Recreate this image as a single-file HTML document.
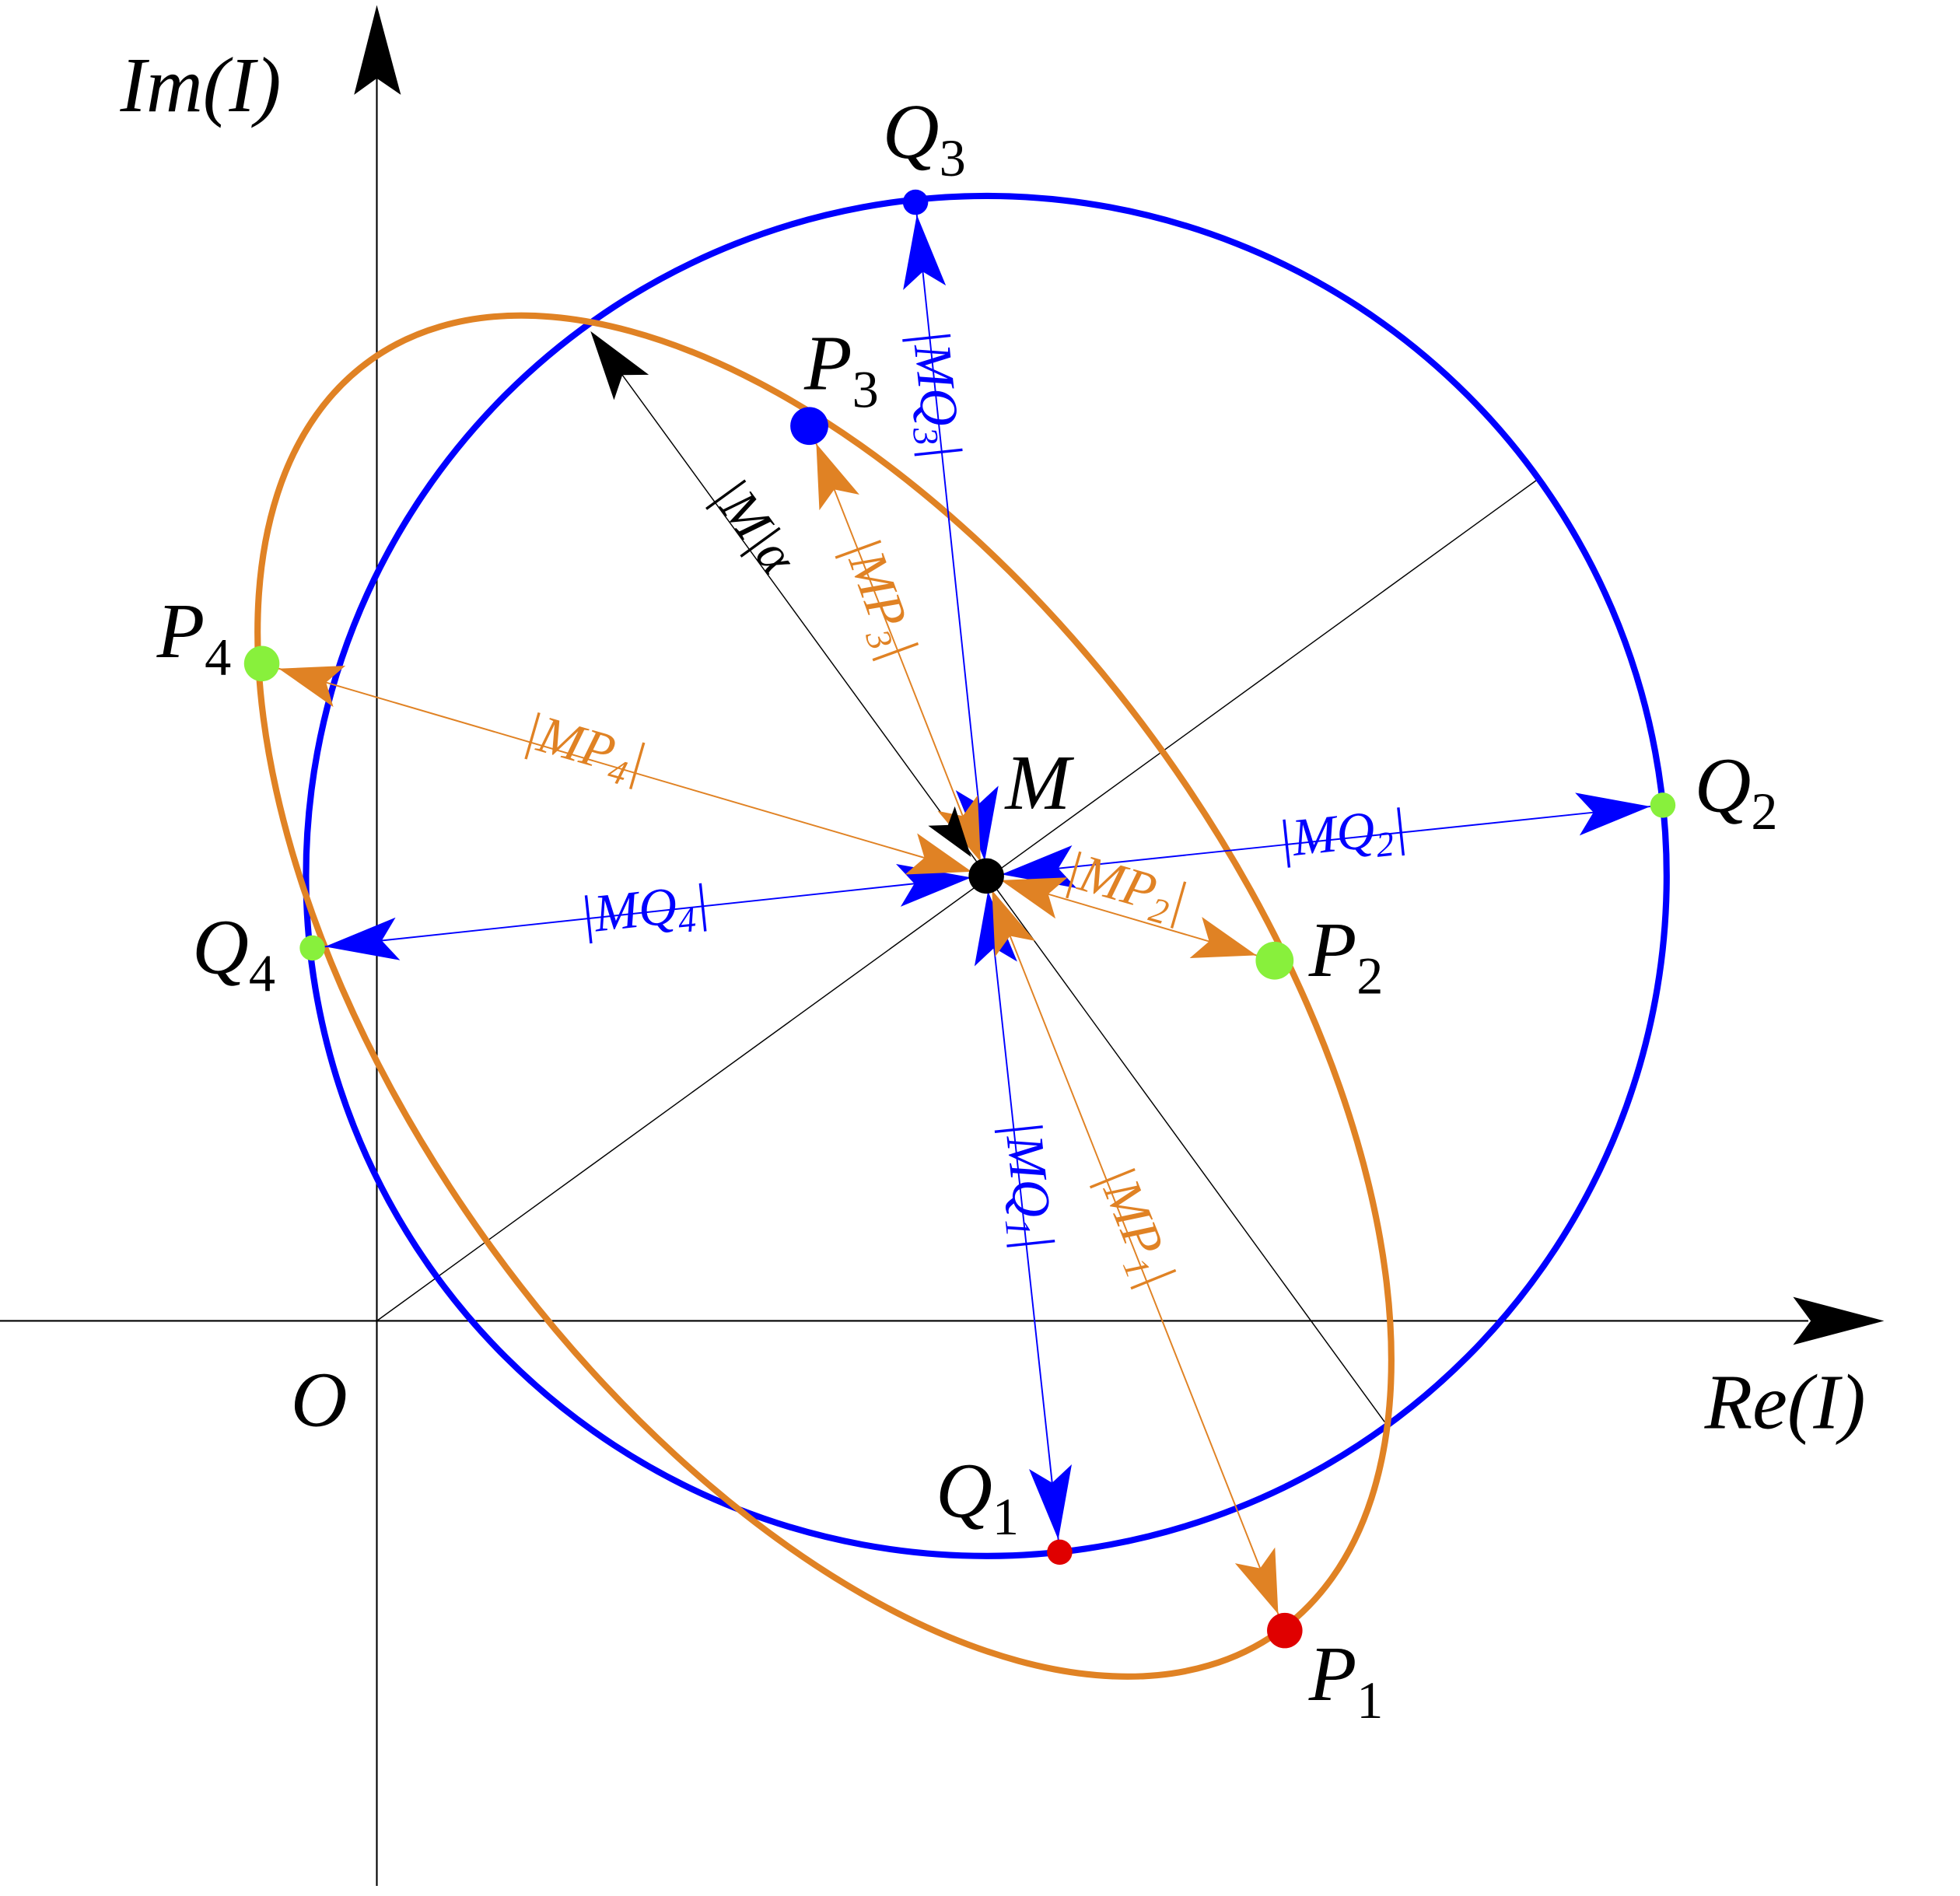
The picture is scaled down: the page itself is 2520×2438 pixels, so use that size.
<!DOCTYPE html>
<html><head><meta charset="utf-8"><style>
html,body{margin:0;padding:0;background:#fff}
svg{display:block}
text{font-family:"Liberation Serif",serif;font-style:italic}
</style></head><body>
<svg id="s" width="2520" height="2438" viewBox="0 0 1550 1500" preserveAspectRatio="none" xmlns="http://www.w3.org/2000/svg">
<rect width="1550" height="1500" fill="#fff"/>
<!-- axes -->
<line x1="0" y1="1045" x2="1430" y2="1045" stroke="#000" stroke-width="1.3"/>
<polygon points="1490,1045 1418,1026 1432,1045 1418,1064" fill="#000"/>
<line x1="298" y1="1492" x2="298" y2="60" stroke="#000" stroke-width="1.3"/>
<polygon points="298,4 280,75 298,62 317,75" fill="#000"/>
<!-- thin black lines -->
<line x1="298" y1="1045" x2="1215" y2="380" stroke="#000" stroke-width="0.9"/>
<line x1="1095" y1="1125" x2="480" y2="280" stroke="#000" stroke-width="0.9"/>
<!-- circle & ellipse -->
<circle cx="780" cy="693" r="538" fill="none" stroke="#0000ff" stroke-width="5"/>
<ellipse cx="652" cy="788" rx="618" ry="330" transform="rotate(54.5 652 788)" fill="none" stroke="#e08224" stroke-width="5"/>
<g id="arr"></g>
<!-- dots -->
<circle cx="724" cy="160" r="10" fill="#0000ff"/>
<circle cx="1315" cy="637" r="10" fill="#88f03c"/>
<circle cx="247" cy="750" r="10" fill="#88f03c"/>
<circle cx="838" cy="1228" r="10" fill="#e00000"/>
<circle cx="1016" cy="1290" r="14" fill="#e00000"/>
<circle cx="1008" cy="760" r="15" fill="#88f03c"/>
<circle cx="640" cy="337" r="15" fill="#0000ff"/>
<circle cx="207" cy="525" r="14" fill="#88f03c"/>
<circle cx="780" cy="693" r="14" fill="#000"/>
<!-- main labels -->
<g font-size="62" fill="#000">
<text x="95" y="88">Im(I)</text>
<text x="1348" y="1130">Re(I)</text>
<text x="230" y="1128">O</text>
<text x="698" y="125">Q<tspan font-style="normal" font-size="42" dy="14">3</tspan></text>
<text x="636" y="308">P<tspan font-style="normal" font-size="42" dy="14">3</tspan></text>
<text x="124" y="520">P<tspan font-style="normal" font-size="42" dy="14">4</tspan></text>
<text x="152" y="770">Q<tspan font-style="normal" font-size="42" dy="14">4</tspan></text>
<text x="795" y="640">M</text>
<text x="1340" y="642">Q<tspan font-style="normal" font-size="42" dy="14">2</tspan></text>
<text x="1035" y="772">P<tspan font-style="normal" font-size="42" dy="14">2</tspan></text>
<text x="740" y="1200">Q<tspan font-style="normal" font-size="42" dy="14">1</tspan></text>
<text x="1035" y="1345">P<tspan font-style="normal" font-size="42" dy="14">1</tspan></text>
</g>
<!-- rotated labels -->
<g font-size="42">
<text fill="#0000ff" transform="translate(722,262) rotate(84)">|MQ<tspan font-size="28" dy="8">3</tspan><tspan dy="-8">|</tspan></text>
<text fill="#000" transform="translate(562,392) rotate(54)">|M|α</text>
<text fill="#e08224" transform="translate(667,432) rotate(70)">|MP<tspan font-size="28" dy="8">3</tspan><tspan dy="-8">|</tspan></text>
<text fill="#e08224" transform="translate(412,590) rotate(16)">|MP<tspan font-size="28" dy="8">4</tspan><tspan dy="-8">|</tspan></text>
<text fill="#0000ff" transform="translate(1012,678) rotate(-6)">|MQ<tspan font-size="28" dy="8">2</tspan><tspan dy="-8">|</tspan></text>
<text fill="#0000ff" transform="translate(460,738) rotate(-6)">|MQ<tspan font-size="28" dy="8">4</tspan><tspan dy="-8">|</tspan></text>
<text fill="#e08224" transform="translate(840,700) rotate(16)">|MP<tspan font-size="28" dy="8">2</tspan><tspan dy="-8">|</tspan></text>
<text fill="#0000ff" transform="translate(795,888) rotate(84)">|MQ<tspan font-size="28" dy="8">1</tspan><tspan dy="-8">|</tspan></text>
<text fill="#e08224" transform="translate(868,930) rotate(68)">|MP<tspan font-size="28" dy="8">1</tspan><tspan dy="-8">|</tspan></text>
</g>
<script>
(function(){
var g=document.getElementById('arr'),NS='http://www.w3.org/2000/svg';
var M=[780,693];
function head(tx,ty,fx,fy,col,L,W){
 var dx=tx-fx,dy=ty-fy,d=Math.hypot(dx,dy);dx/=d;dy/=d;var px=-dy,py=dx;
 var bx=tx-dx*L,by=ty-dy*L,nx=tx-dx*L*0.78,ny=ty-dy*L*0.78;
 var p=document.createElementNS(NS,'polygon');
 p.setAttribute('points',[tx,ty,bx+px*W/2,by+py*W/2,nx,ny,bx-px*W/2,by-py*W/2].join(' '));
 p.setAttribute('fill',col);g.appendChild(p);
}
function arr(x,y,col,w,L,W,off){
 var l=document.createElementNS(NS,'line');
 l.setAttribute('x1',M[0]);l.setAttribute('y1',M[1]);l.setAttribute('x2',x);l.setAttribute('y2',y);
 l.setAttribute('stroke',col);l.setAttribute('stroke-width',w);g.appendChild(l);
 var dx=x-M[0],dy=y-M[1],d=Math.hypot(dx,dy);dx/=d;dy/=d;
 head(x-dx*off,y-dy*off,M[0],M[1],col,L,W);
 head(M[0]+dx*12,M[1]+dy*12,x,y,col,L,W);
}
var B='#0000ff',O='#e08224';
arr(838,1228,B,1.2,58,34,10);
arr(1315,637,B,1.2,58,34,10);
arr(724,160,B,1.2,58,34,10);
arr(247,750,B,1.2,58,34,10);
arr(1016,1290,O,1.2,50,34,14);
arr(1008,760,O,1.2,50,34,15);
arr(640,337,O,1.2,50,34,15);
arr(207,525,O,1.2,50,34,14);
head(467,262,780,693,'#000',55,34);
head(768,678,467,262,'#000',40,26);
})();
</script>
</svg>
</body></html>
